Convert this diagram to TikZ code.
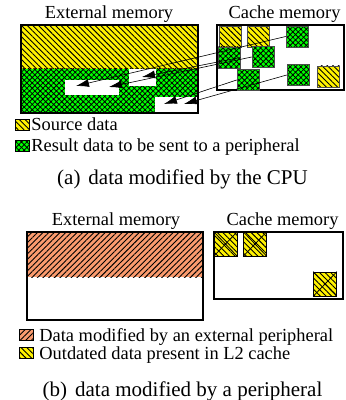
\documentclass[tikz,border=0pt]{standalone}
\usepackage{fontspec}
\setmainfont{Liberation Serif}
\usetikzlibrary{patterns.meta,arrows.meta}
\definecolor{peach}{RGB}{250,155,110}
\begin{document}
\begin{tikzpicture}[x=0.5pt, y=-0.5pt, >={Latex[length=6.5pt,width=4pt]},
    src/.style={preaction={fill=yellow}, pattern={Lines[angle=-45,distance=2pt,line width=0.45pt]}, pattern color=black},
    res/.style={preaction={fill=green}, pattern={Hatch[angle=45,distance=1.9pt,line width=0.4pt]}, pattern color=black},
    ext/.style={preaction={fill=peach}, pattern={Lines[angle=45,distance=2pt,line width=0.45pt]}, pattern color=black},
    blk/.style={minimum width=11pt, minimum height=10.5pt, inner sep=0pt, draw=black!70, line width=0.3pt},
    key/.style={minimum width=7pt, minimum height=5.5pt, inner sep=0pt, draw=black, line width=0.3pt, anchor=south west},
    ttl/.style={font=\fontsize{9.2}{11}\selectfont, anchor=base},
    lgd/.style={font=\fontsize{9.2}{11}\selectfont, anchor=base west, inner sep=0pt},
    captxt/.style={font=\fontsize{10.5}{12}\selectfont, anchor=base},
    wire/.style={->, draw=black, line width=0.3pt}]
  \useasboundingbox (0,0) rectangle (345,400);
  % (a) data modified by the CPU
  \node[ttl] (ext-a) at (109,18.5) {External memory};
  \node[ttl] (cache-a) at (284.5,18.5) {Cache memory};
  \fill[src] (21,25) rectangle (198,69);
  \fill[res] (21,69) rectangle (198,113);
  \fill[white] (65,80) rectangle (119,95);
  \fill[white] (129,69) rectangle (156,86);
  \fill[white] (155,97) rectangle (198,113);
  \draw[line width=0.9pt] (21,25) rectangle (198,113);
  \draw[line width=0.9pt] (217,25) rectangle (344,90);
  \node[blk,src] (s1) at (230,36.5) {};
  \node[blk,src] (s2) at (258,36.5) {};
  \node[blk,src] (s3) at (328.5,76.5) {};
  \node[blk,res] (r1) at (297,36.5) {};
  \node[blk,res] (r2) at (229,57.5) {};
  \node[blk,res] (r3) at (263,57) {};
  \node[blk,res] (r4) at (248,80) {};
  \node[blk,res] (r5) at (298,75) {};
  \coordinate (a1) at (76,86);
  \coordinate (a2) at (109,87);
  \coordinate (a3) at (142,77);
  \coordinate (a4) at (164,104);
  \coordinate (a5) at (184,104);
  \draw[wire] (r1.west) -- (a1);
  \draw[wire] (r3.west) -- (a2);
  \draw[wire] (r2.east) -- (a3);
  \draw[wire] (r4.west) -- (a4);
  \draw[wire] (r5.west) -- (a5);
  \node[key,src] (k-src) at (15,131) {};
  \node[lgd] (l-src) at (31,131) {Source data};
  \node[key,res] (k-res) at (15,152) {};
  \node[lgd] (l-res) at (31,152) {Result data to be sent to a peripheral};
  \node[captxt] (cap-a) at (182.5,185) {(a)\hspace{4pt}data modified by the CPU};
  % (b) data modified by a peripheral
  \node[ttl] (ext-b) at (116,226) {External memory};
  \node[ttl] (cache-b) at (282.5,226) {Cache memory};
  \fill[ext] (27,232) rectangle (203,277);
  \draw[line width=0.9pt] (27,232) rectangle (203,320);
  \draw[line width=0.9pt] (214,232) rectangle (343,299);
  \node[blk,src,draw=black,minimum width=11.5pt,minimum height=12pt] (o1) at (225.5,244) {};
  \node[blk,src,draw=black,minimum width=11.5pt,minimum height=12pt] (o2) at (255,244) {};
  \node[blk,src,draw=black,minimum width=11.5pt,minimum height=12pt] (o3) at (325,284) {};
  \foreach \o in {o1,o2,o3}
    \draw[line width=0.4pt] (\o.north west) -- (\o.south east) (\o.north east) -- (\o.south west);
  \node[key,ext] (k-ext) at (19,341) {};
  \node[lgd] (l-ext) at (39,341) {Data modified by an external peripheral};
  \node[key,src] (k-old) at (19,359) {};
  \node[lgd] (l-old) at (39,359) {Outdated data present in L2 cache};
  \node[captxt] (cap-b) at (182.5,396) {(b)\hspace{4pt}data modified by a peripheral};
\end{tikzpicture}
\end{document}
